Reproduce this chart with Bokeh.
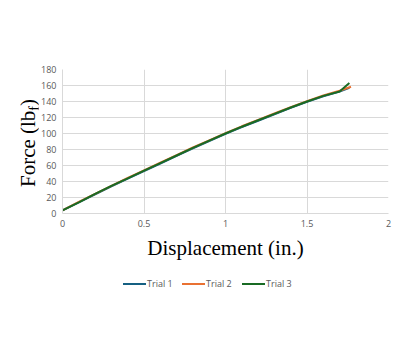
from bokeh.plotting import figure
from bokeh.models import FixedTicker, Div
from bokeh.layouts import row, column
from bokeh.embed import file_html
from bokeh.resources import INLINE

x1 = [0, 0.1, 0.2, 0.3, 0.4, 0.5, 0.6, 0.7, 0.8, 0.9, 1.0, 1.1, 1.2, 1.3, 1.4, 1.5, 1.6, 1.7, 1.76]
y1 = [4, 14, 24, 34, 43.5, 53, 62.5, 72, 81.5, 90.5, 99.5, 108, 116, 124, 132, 139.5, 146.5, 152.5, 157]
x2 = [0, 0.1, 0.2, 0.3, 0.4, 0.5, 0.6, 0.7, 0.8, 0.9, 1.0, 1.1, 1.2, 1.3, 1.4, 1.5, 1.6, 1.7, 1.77]
y2 = [4, 14.5, 24.5, 34.5, 44.5, 54, 63.5, 73, 82.5, 91.5, 100.5, 109, 117, 125, 133, 140.5, 147.5, 153.5, 158.5]
x3 = [0, 0.1, 0.2, 0.3, 0.4, 0.5, 0.6, 0.7, 0.8, 0.9, 1.0, 1.1, 1.2, 1.3, 1.4, 1.5, 1.6, 1.7, 1.76]
y3 = [4, 14, 24.5, 34.5, 44, 53.5, 63, 72.5, 82, 91, 100, 108.5, 116.5, 124.5, 132.5, 140, 147, 152.5, 163]

names = ["Trial 1", "Trial 2", "Trial 3"]
colors = ["#156082", "#E97132", "#196B24"]
x_ticks = [0, 0.5, 1, 1.5, 2]
y_ticks = [0, 20, 40, 60, 80, 100, 120, 140, 160, 180]
x_label = "Displacement (in.)"
y_label_html = 'Force (lb<sub style="font-size:14px;vertical-align:-4px">f</sub>)'

p = figure(frame_width=326, frame_height=144, output_backend="svg", toolbar_location=None,
           x_range=(0, 2), y_range=(0, 180),
           min_border_left=5, min_border_right=12, min_border_top=69, min_border_bottom=0)
p.outline_line_color = None
p.background_fill_color = "white"

for ax in (p.xaxis[0], p.yaxis[0]):
    ax.axis_line_color = "#d9d9d9"
    ax.major_tick_line_color = None
    ax.minor_tick_line_color = None
    ax.major_tick_out = 0
    ax.major_tick_in = 0
    ax.minor_tick_out = 0
    ax.major_label_text_color = "#595959"
    ax.major_label_text_font = "Open Sans"
    ax.major_label_text_font_size = "9px"
p.xaxis[0].ticker = FixedTicker(ticks=x_ticks)
p.yaxis[0].ticker = FixedTicker(ticks=y_ticks)
p.xaxis[0].major_label_overrides = {0: "0", 0.5: "0.5", 1: "1", 1.5: "1.5", 2: "2"}
p.xaxis[0].major_label_standoff = 6
p.yaxis[0].major_label_standoff = 6
p.xaxis[0].axis_label = x_label
p.xaxis[0].axis_label_text_font = "Liberation Serif"
p.xaxis[0].axis_label_text_font_size = "21px"
p.xaxis[0].axis_label_text_font_style = "normal"
p.xaxis[0].axis_label_text_color = "black"
p.xaxis[0].axis_label_standoff = 6

p.xgrid.ticker = FixedTicker(ticks=x_ticks)
p.ygrid.ticker = FixedTicker(ticks=y_ticks)
p.xgrid.grid_line_color = "#d9d9d9"
p.ygrid.grid_line_color = "#d9d9d9"

for xs, ys, c in zip([x1, x2, x3], [y1, y2, y3], colors):
    p.line(xs, ys, line_color=c, line_width=2)

ylab = Div(width=28, height=250, text=(
    '<div style="position:absolute;left:25px;top:138px;transform:translate(-50%,-50%) rotate(-90deg);'
    'white-space:nowrap;font-family:\'Liberation Serif\';font-size:21px;color:black;line-height:1;">'
    + y_label_html + '</div>'))

lefts = [118, 177, 237]
leg_html = ""
for left, c, n in zip(lefts, colors, names):
    leg_html += ('<span style="position:absolute;left:%dpx;top:16px;width:23px;height:2px;background:%s;"></span>'
                 % (left, c))
    leg_html += ('<span style="position:absolute;left:%dpx;top:11px;white-space:nowrap;font-family:\'Open Sans\';'
                 'font-size:9px;line-height:12px;color:#595959;">%s</span>' % (left + 24, n))
legend_div = Div(width=400, height=60, text=leg_html)

layout = column(row(ylab, p, spacing=0), legend_div, spacing=0)
open("out.html", "w").write(file_html(layout, INLINE))
